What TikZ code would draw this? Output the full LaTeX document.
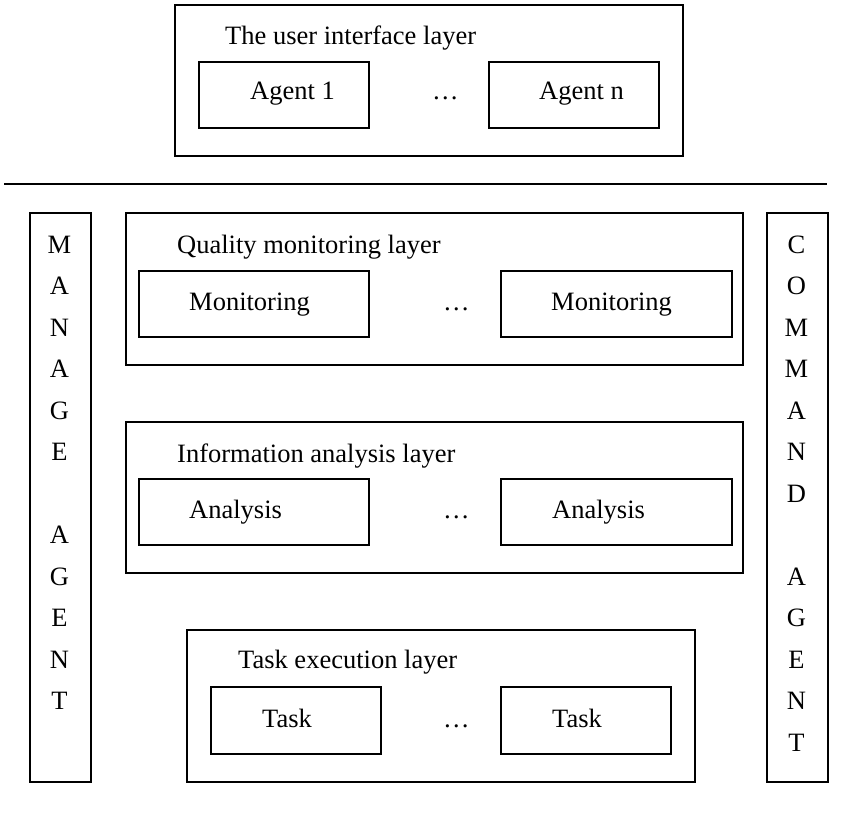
\documentclass[tikz,border=0pt]{standalone}
\usepackage{fontspec}
\setmainfont{Liberation Serif}
\begin{document}
\begin{tikzpicture}[x=1pt,y=-1pt,
  box/.style={draw, line width=1.7pt, inner sep=0pt, anchor=north west},
  lbl/.style={anchor=base west, inner sep=0pt, font=\fontsize{26.5}{30}\selectfont},
  ltr/.style={anchor=base, inner sep=0pt, font=\fontsize{26.5}{30}\selectfont}]
\useasboundingbox (0,0) rectangle (845,818);

% user interface layer
\node[box, minimum width=508pt, minimum height=151pt] (ui) at (174,4) {};
\node[box, minimum width=170pt, minimum height=66pt] (ag1) at (198,61) {};
\node[box, minimum width=170pt, minimum height=66pt] (agn) at (488,61) {};
\node[lbl] (uit) at (225,45) {The user interface layer};
\node[lbl] (ag1t) at (250,100) {Agent 1};
\node[lbl] (uid) at (432,100) {…};
\node[lbl] (agnt) at (539,100) {Agent n};

% separator
\coordinate (s1) at (4,184);
\coordinate (s2) at (827,184);
\draw[line width=1.7pt] (s1) -- (s2);

% side agents
\node[box, minimum width=61pt, minimum height=569pt] (manage) at (29,212) {};
\node[box, minimum width=61pt, minimum height=569pt] (command) at (766,212) {};
\foreach \ch/\k in {M/0,A/1,N/2,A/3,G/4,E/5,A/7,G/8,E/9,N/10,T/11}
  \node[ltr] (m\k) at (59.5,{253+41.5*\k}) {\ch};
\foreach \ch/\k in {C/0,O/1,M/2,M/3,A/4,N/5,D/6,A/8,G/9,E/10,N/11,T/12}
  \node[ltr] (c\k) at (796.5,{253+41.5*\k}) {\ch};

% quality monitoring layer
\node[box, minimum width=617pt, minimum height=152pt] (qm) at (125,212) {};
\node[box, minimum width=230pt, minimum height=66pt] (mon1) at (138,270) {};
\node[box, minimum width=231pt, minimum height=66pt] (mon2) at (500,270) {};
\node[lbl] (qmt) at (177,253) {Quality monitoring layer};
\node[lbl] (mon1t) at (189,310) {Monitoring};
\node[lbl] (qmd) at (443,310) {…};
\node[lbl] (mon2t) at (551,310) {Monitoring};

% information analysis layer
\node[box, minimum width=617pt, minimum height=151pt] (ia) at (125,421) {};
\node[box, minimum width=230pt, minimum height=66pt] (ana1) at (138,478) {};
\node[box, minimum width=231pt, minimum height=66pt] (ana2) at (500,478) {};
\node[lbl] (iat) at (177,462) {Information analysis layer};
\node[lbl] (ana1t) at (189,518) {Analysis};
\node[lbl] (iad) at (443,518) {…};
\node[lbl] (ana2t) at (552,518) {Analysis};

% task execution layer
\node[box, minimum width=508pt, minimum height=152pt] (te) at (186,629) {};
\node[box, minimum width=170pt, minimum height=67pt] (task1) at (210,686) {};
\node[box, minimum width=170pt, minimum height=67pt] (task2) at (500,686) {};
\node[lbl] (tet) at (238,668) {Task execution layer};
\node[lbl] (task1t) at (262,727) {Task};
\node[lbl] (ted) at (443,727) {…};
\node[lbl] (task2t) at (552,727) {Task};
\end{tikzpicture}
\end{document}
